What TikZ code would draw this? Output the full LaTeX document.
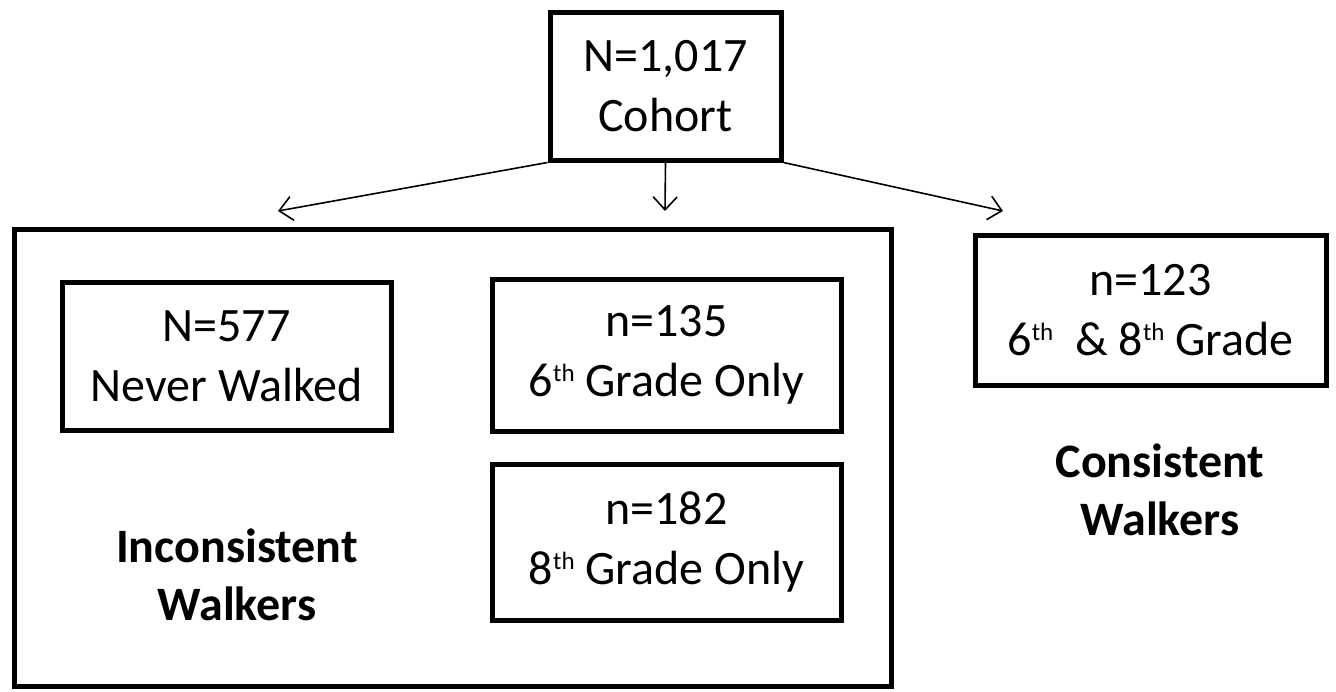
\documentclass[tikz,border=0pt]{standalone}
\usepackage{fontspec}
\setmainfont{Carlito}
\usetikzlibrary{arrows.meta}
\newcommand\supth{\raisebox{15pt}{\fontsize{25}{25}\selectfont th}}
\tikzset{
  box/.style={draw=black, line width=5pt, rectangle, inner sep=0pt, align=center,
    font=\fontsize{48}{60}\selectfont},
  lbl/.style={inner sep=0pt, align=center, font=\fontsize{48}{58}\selectfont\bfseries},
  conn/.style={draw=black, line width=1.6pt, -{Straight Barb[length=13pt,width=24pt,line width=1.6pt]}}
}
\begin{document}
\begin{tikzpicture}[x=1pt,y=-1pt]
\useasboundingbox (0,0) rectangle (1336,691);
\node[box, minimum width=231pt, minimum height=148pt] (top) at (665.5,86) {N=1,017\\Cohort};
\node[box, minimum width=877pt, minimum height=457pt] (big) at (452.5,457.5) {};
\node[box, minimum width=329pt, minimum height=148pt] (never) at (226.5,356) {N=577\\Never Walked};
\node[box, minimum width=349pt, minimum height=152pt] (six) at (666.5,355) {n=135\\6\supth\ Grade Only};
\node[box, minimum width=349pt, minimum height=156pt] (eight) at (666.5,542) {n=182\\8\supth\ Grade Only};
\node[box, minimum width=351pt, minimum height=150pt] (both) at (1150.5,310) {n=123\\6\supth\ \ \& 8\supth\ Grade};
\node[lbl] (incons) at (237,575) {Inconsistent\\Walkers};
\node[lbl] (cons) at (1160,490) {Consistent\\Walkers};
\coordinate (tl) at (278,211);
\coordinate (tm) at (665,211);
\coordinate (tr) at (1003,211);
\draw[conn] (top.south west) -- (tl);
\draw[conn] (top.south) -- (tm);
\draw[conn] (top.south east) -- (tr);
\end{tikzpicture}
\end{document}
